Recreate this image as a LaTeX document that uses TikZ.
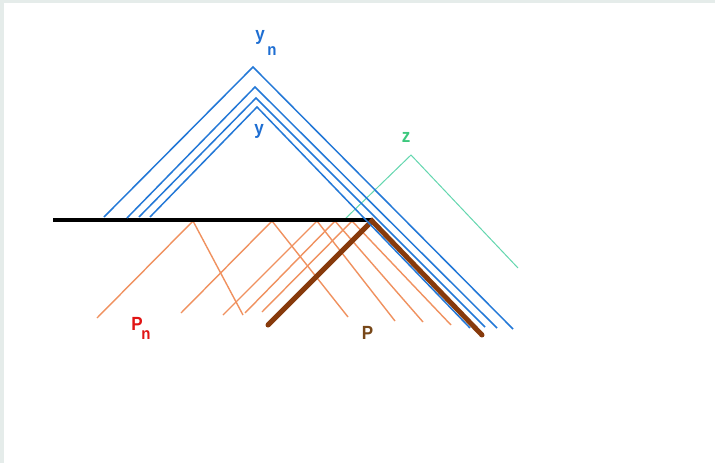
\documentclass[tikz,border=0pt]{standalone}
\usepackage{fontspec}
\setmainfont{Liberation Sans}
\begin{document}
\begin{tikzpicture}[x=1pt,y=-1pt,
  bluel/.style={draw=blueline,line width=1.5pt},
  orl/.style={draw=orangeline,line width=1.4pt},
  greenl/.style={draw=greenline,line width=1pt},
  brownl/.style={draw=brownline,line width=5pt,line cap=round,line join=miter},
  blackl/.style={draw=black,line width=3.4pt},
  lbl/.style={inner sep=0pt,anchor=base,yscale=1.12,font=\bfseries\fontsize{17}{17}\selectfont},
  sub/.style={inner sep=0pt,anchor=base,yscale=1.1,font=\bfseries\fontsize{15}{15}\selectfont}]
\definecolor{blueline}{RGB}{35,120,215}
\definecolor{orangeline}{RGB}{240,145,95}
\definecolor{greenline}{RGB}{100,215,175}
\definecolor{brownline}{RGB}{135,58,12}
\definecolor{framegrey}{RGB}{229,236,234}
\definecolor{bluetext}{RGB}{30,110,210}
\definecolor{redtext}{RGB}{225,20,20}
\definecolor{browntext}{RGB}{120,72,25}
\definecolor{greentext}{RGB}{60,200,125}
% background and frame
\fill[framegrey] (0,0) rectangle (715,463);
\fill[white] (4,3) rectangle (715,463);
\useasboundingbox (0,0) rectangle (715,463);
% blue wedges (y ... y_n)
\coordinate (b1l) at (104,217); \coordinate (b1t) at (253,67);  \coordinate (b1r) at (513,329);
\coordinate (b2l) at (127,218); \coordinate (b2t) at (255,87);  \coordinate (b2r) at (497,328);
\coordinate (b3l) at (139,217); \coordinate (b3t) at (256,98);  \coordinate (b3r) at (485,327);
\coordinate (b4l) at (150,217); \coordinate (b4t) at (257,107); \coordinate (b4r) at (470,328);
% green wedge z
\coordinate (gl) at (345,219); \coordinate (gt) at (411,155); \coordinate (gr) at (518,268);
% orange wedges
\coordinate (o1) at (193,221); \coordinate (o1l) at (97,318);  \coordinate (o1r) at (243,315);
\coordinate (o2) at (272,221); \coordinate (o2l) at (181,313); \coordinate (o2r) at (348,317);
\coordinate (o3) at (317,221); \coordinate (o3l) at (223,315); \coordinate (o3r) at (395,321);
\coordinate (o4) at (335,221); \coordinate (o4l) at (245,313); \coordinate (o4r) at (423,322);
\coordinate (o5) at (352,221); \coordinate (o5l) at (262,312); \coordinate (o5r) at (451,325);
% brown P and black line
\coordinate (pl) at (268,325); \coordinate (pt) at (372,221); \coordinate (pr) at (482,335);
\coordinate (hl) at (53,220); \coordinate (hr) at (372,220);

\foreach \i in {1,...,5} {\draw[orl] (o\i l) -- (o\i) -- (o\i r);}
\draw[greenl] (gl) -- (gt) -- (gr);
\draw[blackl] (hl) -- (hr);
\draw[brownl] (pl) -- (pt) -- (pr);
\foreach \i in {1,...,4} {\draw[bluel] (b\i l) -- (b\i t) -- (b\i r);}

% labels
\node[lbl,text=bluetext] (yn) at (260,40.5) {y};
\node[sub,text=bluetext] (ynsub) at (272,55) {n};
\node[lbl,text=bluetext] (y) at (259,134) {y};
\node[lbl,text=greentext] (z) at (406,142.7) {z};
\node[lbl,text=redtext] (Pn) at (137,330.7) {P};
\node[sub,text=redtext] (Pnsub) at (146,339.3) {n};
\node[lbl,text=browntext] (P) at (367.5,339.3) {P};
\end{tikzpicture}
\end{document}
